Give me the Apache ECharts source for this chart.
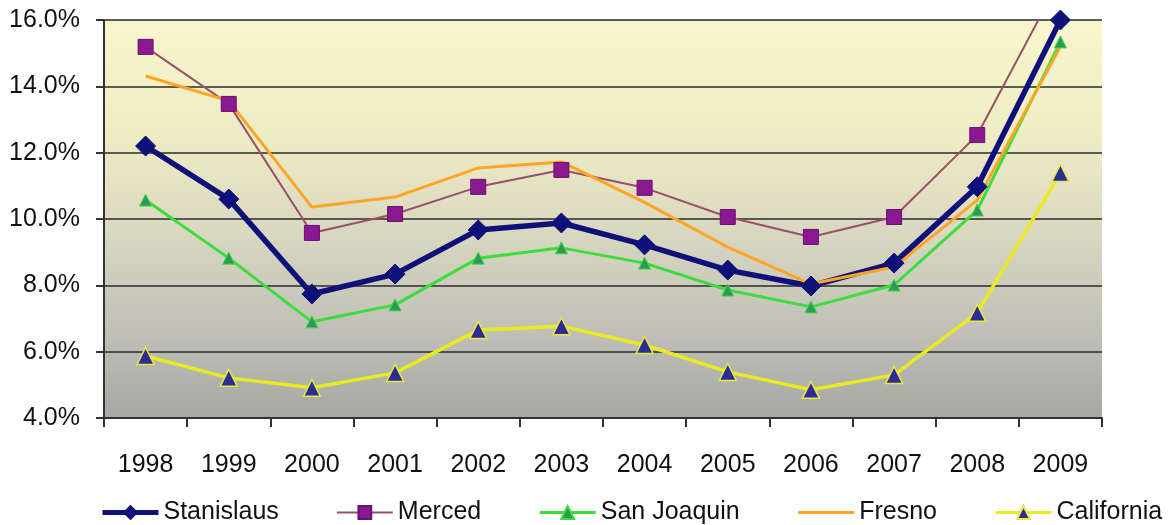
<!DOCTYPE html>
<html><head><meta charset="utf-8">
<script src="https://cdn.jsdelivr.net/npm/echarts@6/dist/echarts.min.js"></script>
<style>html,body{margin:0;padding:0;background:#fff}#c{width:1169px;height:525px}</style>
</head><body><div id="c"></div>
<script>
const categories = ['1998','1999','2000','2001','2002','2003','2004','2005','2006','2007','2008','2009'];
const stanislaus = [12.2,10.6,7.74,8.34,9.67,9.88,9.22,8.46,7.98,8.67,10.97,16.0];
const merced     = [15.19,13.47,9.58,10.15,10.97,11.48,10.94,10.06,9.46,10.06,12.53,17.25];
const sanJoaquin = [10.57,8.82,6.9,7.41,8.82,9.13,8.67,7.86,7.35,8.01,10.27,15.34];
const fresno     = [14.31,13.56,10.36,10.66,11.54,11.72,10.5,9.15,8.04,8.55,10.57,15.2];
const california = [5.87,5.21,4.91,5.36,6.65,6.77,6.2,5.39,4.85,5.3,7.17,11.39];
const yTicks = {min:4, max:16, interval:2};

const font = '"Liberation Sans", Arial, sans-serif';
const chart = echarts.init(document.getElementById('c'));
chart.setOption({
  animation:false,
  backgroundColor:'#ffffff',
  grid:{left:104,right:67,top:20,bottom:107,show:true,borderWidth:0,
    backgroundColor:new echarts.graphic.LinearGradient(0,0,0,1,[
      {offset:0,color:'#f8f6cc'},{offset:0.3,color:'#eeecc4'},{offset:0.55,color:'#d7d6c0'},
      {offset:0.8,color:'#bebeb7'},{offset:1,color:'#a7a7a3'}])},
  legend:{top:500,left:100,width:1069,padding:0,itemWidth:56,itemHeight:16,itemGap:57,
    textStyle:{fontFamily:font,fontSize:25,color:'#111'},
    data:[
      {name:'Stanislaus',lineStyle:{width:5}},
      {name:'Merced',lineStyle:{width:2}},
      {name:'San Joaquin',lineStyle:{width:3}},
      {name:'Fresno',lineStyle:{width:3},itemStyle:{opacity:0}},
      {name:'California',lineStyle:{width:3}}]},
  xAxis:{type:'category',data:categories,boundaryGap:true,
    axisLine:{lineStyle:{color:'#333',width:2}},
    axisTick:{show:true,length:9,alignWithLabel:false,lineStyle:{color:'#333',width:2}},
    axisLabel:{fontFamily:font,fontSize:25,color:'#111',margin:35}},
  yAxis:{type:'value',min:yTicks.min,max:yTicks.max,interval:yTicks.interval,
    axisLine:{show:true,lineStyle:{color:'#333',width:2}},
    axisTick:{show:true,length:8,lineStyle:{color:'#333',width:2}},
    axisLabel:{fontFamily:font,fontSize:25,color:'#111',margin:24,formatter:v=>v.toFixed(1)+'%'},
    splitLine:{lineStyle:{color:'#2a2a2a',width:1.5}}},
  series:[
    {name:'Stanislaus',type:'line',data:stanislaus,symbol:'diamond',symbolSize:20,
      lineStyle:{color:'#10107a',width:5.5},itemStyle:{color:'#10107a',borderColor:'#10107a',borderWidth:1},z:3},
    {name:'Merced',type:'line',data:merced,symbol:'rect',symbolSize:15,
      lineStyle:{color:'#9a4f6a',width:2},itemStyle:{color:'#8a1890',borderColor:'#6a1070',borderWidth:1},z:3},
    {name:'San Joaquin',type:'line',data:sanJoaquin,symbol:'triangle',symbolSize:12,
      lineStyle:{color:'#3ddc3d',width:3},itemStyle:{color:'#2e9a5a',borderColor:'#3ddc3d',borderWidth:1},z:3},
    {name:'Fresno',type:'line',data:fresno,symbol:'none',
      lineStyle:{color:'#ffa526',width:3},itemStyle:{color:'#ffa526'},z:3},
    {name:'California',type:'line',data:california,symbol:'triangle',symbolSize:17,
      lineStyle:{color:'#eaea22',width:3.5},itemStyle:{color:'#2c2c96',borderColor:'#e8e840',borderWidth:1.5},z:3}
  ]
});
</script></body></html>
